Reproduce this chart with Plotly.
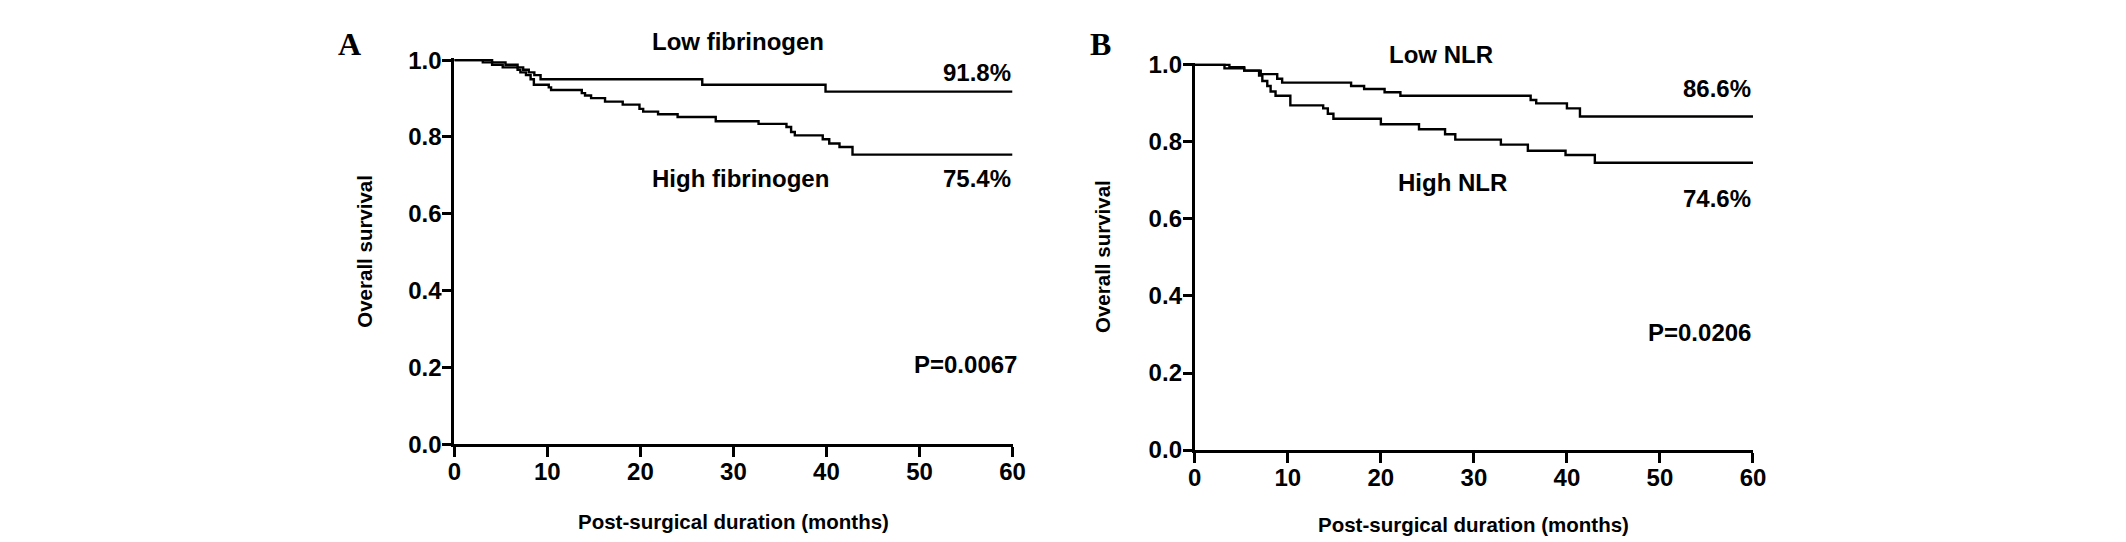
import plotly.graph_objects as go

# ---- Data ----
a_low_t = [0, 4.06, 5.5, 6.8, 7.4, 8.0, 8.6, 9.27, 26.65, 39.9, 60]
a_low_s = [1.0, 0.994, 0.988, 0.981, 0.975, 0.968, 0.961, 0.950, 0.936, 0.918, 0.918]

a_high_t = [0, 3.06, 4.06, 5.2, 6.8, 7.1, 7.7, 8.2, 8.55, 10.15, 10.4, 13.7, 14.05, 14.7,
            16.2, 18.1, 19.9, 20.3, 21.9, 24.0, 28.1, 32.7, 35.7, 36.2, 36.6, 39.6, 40.3,
            41.4, 42.8, 60]
a_high_s = [1.0, 0.994, 0.988, 0.981, 0.975, 0.968, 0.961, 0.950, 0.936, 0.929, 0.922, 0.914,
            0.908, 0.901, 0.892, 0.884, 0.873, 0.866, 0.859, 0.852, 0.841, 0.834, 0.826, 0.813,
            0.804, 0.794, 0.783, 0.774, 0.754, 0.754]

b_low_t = [0, 3.72, 5.31, 7.09, 8.86, 9.39, 16.8, 18.2, 20.4, 22.1, 36.1, 36.7, 40.0, 41.4, 60]
b_low_s = [1.0, 0.994, 0.985, 0.976, 0.964, 0.954, 0.945, 0.9375, 0.929, 0.920, 0.909, 0.900,
           0.887, 0.866, 0.866]

b_high_t = [0, 3.19, 5.31, 6.91, 7.26, 7.79, 8.15, 8.68, 10.27, 13.8, 14.3, 14.9, 20.0, 24.1,
            26.9, 28.0, 32.9, 35.8, 39.85, 43.0, 60]
b_high_s = [1.0, 0.991, 0.985, 0.972, 0.958, 0.945, 0.931, 0.920, 0.895, 0.887, 0.873, 0.860,
            0.846, 0.833, 0.820, 0.806, 0.793, 0.777, 0.766, 0.746, 0.746]

x_ticks = [0, 10, 20, 30, 40, 50, 60]
y_ticks = [0.0, 0.2, 0.4, 0.6, 0.8, 1.0]

panel_letters = ["A", "B"]
group_labels_a = ["Low fibrinogen", "High fibrinogen"]
group_labels_b = ["Low NLR", "High NLR"]
pct_a = ["91.8%", "75.4%"]
pct_b = ["86.6%", "74.6%"]
p_values = ["P=0.0067", "P=0.0206"]
x_title = "Post-surgical duration (months)"
y_title = "Overall survival"

# ---- Figure ----
W, H = 2126, 542
FONT = "Liberation Sans"
FS_TICK = 24
FS_LAB = 24
FS_TITLE = 20.5
black = "#000000"

fig = go.Figure()
line_style = dict(color=black, width=2.4, shape="hv")
fig.add_trace(go.Scatter(x=a_low_t, y=a_low_s, mode="lines", line=line_style, xaxis="x", yaxis="y"))
fig.add_trace(go.Scatter(x=a_high_t, y=a_high_s, mode="lines", line=line_style, xaxis="x", yaxis="y"))
fig.add_trace(go.Scatter(x=b_low_t, y=b_low_s, mode="lines", line=line_style, xaxis="x2", yaxis="y2"))
fig.add_trace(go.Scatter(x=b_high_t, y=b_high_s, mode="lines", line=line_style, xaxis="x2", yaxis="y2"))

tickfont = dict(family=FONT, size=FS_TICK, color=black, weight="bold")
common_x = dict(range=[0, 60], tickvals=x_ticks, ticks="outside", ticklen=10, tickwidth=3,
                tickcolor=black, showline=True, linewidth=3, linecolor=black, showgrid=False,
                zeroline=False, tickfont=tickfont, fixedrange=True, ticklabelstandoff=-6)
common_y = dict(range=[0, 1.006], tickvals=y_ticks, tickformat=".1f", ticks="outside", ticklen=9,
                tickwidth=3, tickcolor=black, showline=True, linewidth=3, linecolor=black,
                showgrid=False, zeroline=False, tickfont=tickfont, fixedrange=True,
                ticklabelstandoff=-4)

ax_a = [443.5 / W, 1007 / W]
ax_b = [1191 / W, 1754.5 / W]
ay_a = [1 - 445 / H, 1 - 40.6 / H]
ay_b = [1 - 451 / H, 1 - 45.6 / H]

fig.update_layout(
    width=W, height=H,
    margin=dict(l=0, r=0, t=0, b=0),
    paper_bgcolor="white", plot_bgcolor="white",
    showlegend=False,
    xaxis=dict(domain=ax_a, anchor="y", **common_x),
    yaxis=dict(domain=ay_a, anchor="x", **common_y),
    xaxis2=dict(domain=ax_b, anchor="y2", **common_x),
    yaxis2=dict(domain=ay_b, anchor="x2", **common_y),
)

lab = dict(family=FONT, size=FS_LAB, color=black, weight="bold")
ttl = dict(family=FONT, size=FS_TITLE, color=black, weight="bold")
letter_font = dict(family="Liberation Serif", size=32, color=black, weight="bold")
ann = []
# panel letters
ann.append(dict(text=panel_letters[0], x=338 / W, y=1 - 26 / H, xref="paper", yref="paper",
                showarrow=False, xanchor="center", yanchor="middle", font=letter_font))
ann.append(dict(text=panel_letters[1], x=1096 / W, y=1 - 26 / H, xref="paper", yref="paper",
                showarrow=False, xanchor="center", yanchor="middle", font=letter_font))
# panel A labels
ann += [
    dict(text=group_labels_a[0], x=21.0, y=1.0, yshift=19, xref="x", yref="y", xanchor="left", yanchor="middle", showarrow=False, font=lab),
    dict(text=pct_a[0], x=60, y=0.968, xref="x", yref="y", xanchor="right", yanchor="middle", showarrow=False, font=lab),
    dict(text=group_labels_a[1], x=21.0, y=0.692, xref="x", yref="y", xanchor="left", yanchor="middle", showarrow=False, font=lab),
    dict(text=pct_a[1], x=60, y=0.692, xref="x", yref="y", xanchor="right", yanchor="middle", showarrow=False, font=lab),
    dict(text=p_values[0], x=60, xshift=6, y=0.208, xref="x", yref="y", xanchor="right", yanchor="middle", showarrow=False, font=lab),
]
# panel B labels
ann += [
    dict(text=group_labels_b[0], x=20.7, y=1.0, yshift=10, xref="x2", yref="y2", xanchor="left", yanchor="middle", showarrow=False, font=lab),
    dict(text=pct_b[0], x=60, y=0.940, xref="x2", yref="y2", xanchor="right", yanchor="middle", showarrow=False, font=lab),
    dict(text=group_labels_b[1], x=21.6, y=0.695, xref="x2", yref="y2", xanchor="left", yanchor="middle", showarrow=False, font=lab),
    dict(text=pct_b[1], x=60, y=0.653, xref="x2", yref="y2", xanchor="right", yanchor="middle", showarrow=False, font=lab),
    dict(text=p_values[1], x=60, y=0.305, xref="x2", yref="y2", xanchor="right", yanchor="middle", showarrow=False, font=lab),
]
# axis titles
ann += [
    dict(text=x_title, x=30, y=1 - 526 / H, xref="x", yref="paper", xanchor="center", yanchor="middle", showarrow=False, font=ttl),
    dict(text=x_title, x=30, y=1 - 529 / H, xref="x2", yref="paper", xanchor="center", yanchor="middle", showarrow=False, font=ttl),
    dict(text=y_title, x=352 / W, y=0.5, xref="paper", yref="y domain", xanchor="center", yanchor="middle", textangle=-90, showarrow=False, font=ttl),
    dict(text=y_title, x=1098 / W, y=0.5, xref="paper", yref="y2 domain", xanchor="center", yanchor="middle", textangle=-90, showarrow=False, font=ttl),
]
fig.update_layout(annotations=ann)

fig.write_html("out.html")
